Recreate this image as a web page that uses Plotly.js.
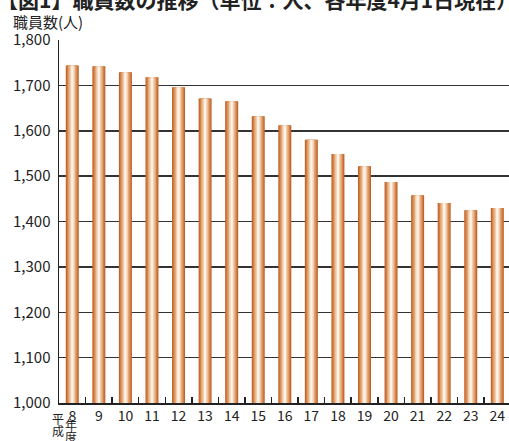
<!DOCTYPE html>
<html>
<head>
<meta charset="utf-8">
<script src="https://cdn.plot.ly/plotly-3.0.1.min.js"></script>
<style>
html,body{margin:0;padding:0;background:#fff;}
#chart{width:509px;height:441px;}
</style>
</head>
<body>
<div id="chart"></div>
<script>
// Fiscal years (Heisei)
const years = ['8','9','10','11','12','13','14','15','16','17','18','19','20','21','22','23','24'];
// Number of staff (persons)
const staff = [1744,1742,1729,1718,1696,1671,1665,1632,1612,1580,1549,1522,1487,1458,1441,1425,1430];
// Y tick values and labels
const yTickVals = [1000,1100,1200,1300,1400,1500,1600,1700,1800];
const yTickLabels = ['1,000','1,100','1,200','1,300','1,400','1,500','1,600','1,700','1,800'];
const chartTitle = '【図1】職員数の推移（単位：人、各年度4月1日現在）';
const yTitle = '職員数(人)';
const eraChars = ['平','成'];
const fyChars = ['年','度'];

// cylinder-like shading: layered bars, outer to inner
const layers = [
  {w:0.49, c:'#c2632a'},
  {w:0.41, c:'#d27f47'},
  {w:0.31, c:'#e2a574'},
  {w:0.20, c:'#f0cdab'},
  {w:0.09, c:'#fcf2e8'}
];
const traces = layers.map(l => ({
  type:'bar', x:years, y:staff, width:l.w, base:0,
  marker:{color:l.c, line:{width:0}}, hoverinfo:'skip', showlegend:false
}));

const F = '"Noto Sans CJK JP", "Noto Sans", sans-serif';
function charAnn(t, x, y){
  return {text:t, xref:'paper', yref:'paper', x:x, y:y, xanchor:'center', yanchor:'middle',
          showarrow:false, font:{size:12, color:'#222'}};
}
const annotations = [
  {text:chartTitle, xref:'paper', yref:'paper', x:-0.142, y:1.113, xanchor:'left', yanchor:'middle',
   showarrow:false, font:{family:F, size:21, color:'#222', weight:'bold'}},
  {text:yTitle, xref:'paper', yref:'paper', x:-0.107, y:1.052, xanchor:'left', yanchor:'middle',
   showarrow:false, font:{size:15, color:'#222'}},
  charAnn(eraChars[0], -0.002, -0.044),
  charAnn(eraChars[1], -0.002, -0.077),
  charAnn(fyChars[0], 0.026, -0.060),
  charAnn(fyChars[1], 0.026, -0.093)
];

const layout = {
  width:509, height:441,
  margin:{l:59, r:0, t:40, b:38},
  paper_bgcolor:'#fff', plot_bgcolor:'#fff',
  barmode:'overlay',
  font:{family:F, color:'#222', size:14},
  xaxis:{type:'category', range:[-0.5,16.44], tickson:'boundaries', ticks:'inside',
         ticklen:6, tickwidth:1.5, tickcolor:'#222', showline:true, linecolor:'#222', linewidth:1.5,
         showgrid:false, automargin:false, fixedrange:true, tickfont:{size:14, color:'#222'}},
  yaxis:{range:[1000,1800], tickvals:yTickVals, ticktext:yTickLabels, ticks:'',
         showline:true, linecolor:'#222', linewidth:1.5, showgrid:true, gridcolor:'#333',
         gridwidth:1.5, zeroline:false, automargin:false, fixedrange:true,
         tickfont:{size:15, color:'#222'}, ticklabelstandoff:4},
  annotations:annotations
};
Plotly.newPlot('chart', traces, layout, {displayModeBar:false, staticPlot:true});
</script>
</body>
</html>
